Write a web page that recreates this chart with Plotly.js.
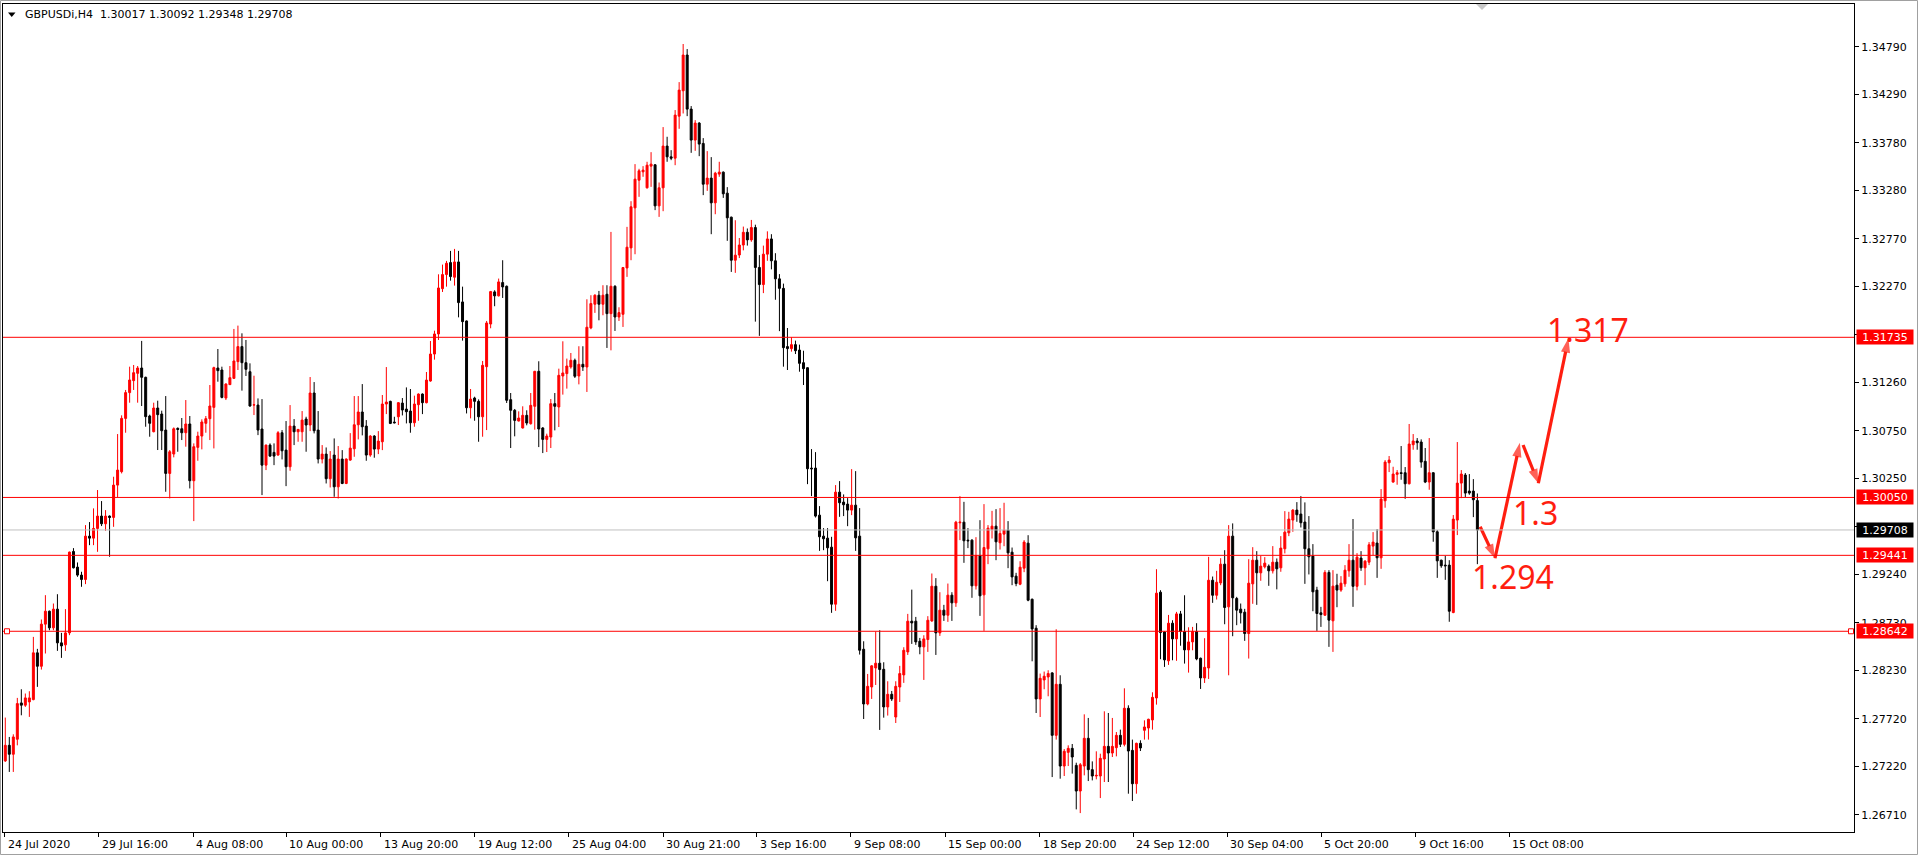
<!DOCTYPE html>
<html><head><meta charset="utf-8">
<script src="https://cdn.plot.ly/plotly-3.0.1.min.js"></script>
<style>html,body{margin:0;padding:0;background:#fff;overflow:hidden}#chart{width:1920px;height:858px}</style>
</head><body><div id="chart"></div>
<script>
// ---- data (GBPUSDi H4 candles, bar index 0..367) ----
const openP = [
1.27278,1.27442,1.27348,1.27506,1.27888,1.27864,1.27899,1.27923,1.28415,1.28274,
1.28717,1.28853,1.28678,1.28875,1.28520,1.28499,1.28625,1.29482,1.29317,1.29233,
1.29187,1.29643,1.29622,1.29724,1.29854,1.29773,1.29854,1.29840,1.30180,1.30321,
1.30882,1.31153,1.31279,1.31356,1.31412,1.31314,1.30907,1.30742,1.30991,1.30928,
1.30759,1.30303,1.30507,1.30777,1.30773,1.30731,1.30823,1.30226,1.30577,1.30696,
1.30830,1.30879,1.30998,1.31412,1.31391,1.31096,1.31237,1.31303,1.31479,1.31637,
1.31468,1.31373,1.31022,1.31022,1.30770,1.30390,1.30601,1.30524,1.30496,1.30731,
1.30548,1.30373,1.30801,1.30741,1.30741,1.30875,1.30812,1.31149,1.30759,1.30454,
1.30506,1.30247,1.30496,1.30162,1.30454,1.30197,1.30443,1.30562,1.30815,1.30949,
1.30801,1.30496,1.30696,1.30559,1.30636,1.31033,1.31061,1.30843,1.30899,1.31043,
1.30980,1.30959,1.30836,1.31026,1.31138,1.31047,1.31275,1.31559,1.31770,1.32247,
1.32395,1.32521,1.32367,1.32528,1.32107,1.31907,1.30994,1.31096,1.31061,1.30899,
1.31426,1.31875,1.32213,1.32171,1.32311,1.32272,1.31079,1.30967,1.30854,1.30781,
1.30914,1.30826,1.31009,1.31377,1.30781,1.30661,1.30686,1.31037,1.31002,1.31328,
1.31353,1.31423,1.31493,1.31328,1.31451,1.31423,1.31834,1.32083,1.32178,1.32083,
1.32188,1.31984,1.32272,1.31949,1.31977,1.32465,1.32676,1.33097,1.33388,1.33476,
1.33308,1.33536,1.33550,1.33118,1.33308,1.33747,1.33634,1.33620,1.34062,1.34329,
1.34705,1.34136,1.33810,1.33989,1.33775,1.33346,1.33410,1.33150,1.33452,1.33473,
1.33252,1.32999,1.32546,1.32601,1.32706,1.32840,1.32760,1.32890,1.32470,1.32290,
1.32610,1.32770,1.32540,1.32350,1.32250,1.31637,1.31616,1.31658,1.31601,1.31468,
1.31415,1.30359,1.30359,1.29864,1.29643,1.29622,1.29527,1.28927,1.30106,1.30001,
1.29980,1.29917,1.29969,1.29643,1.28453,1.27877,1.28056,1.28256,1.28306,1.28242,
1.27846,1.27979,1.27740,1.28056,1.28183,1.28425,1.28748,1.28748,1.28537,1.28478,
1.28555,1.28751,1.29116,1.28625,1.28864,1.28811,1.29022,1.28941,1.29783,1.29790,
1.29601,1.29601,1.29120,1.29439,1.29025,1.29509,1.29713,1.29748,1.29573,1.29664,
1.29706,1.29474,1.29222,1.29137,1.29306,1.29569,1.28979,1.28674,1.27930,1.28130,
1.28161,1.28204,1.27547,1.28084,1.27224,1.27368,1.27410,1.27231,1.26961,1.27224,
1.27516,1.27186,1.27119,1.27119,1.27298,1.27431,1.27361,1.27417,1.27547,1.27452,
1.27832,1.27389,1.27038,1.27463,1.27600,1.27624,1.27709,1.27940,1.29053,1.28635,
1.28331,1.28727,1.28562,1.28825,1.28639,1.28446,1.28530,1.28639,1.28358,1.28151,
1.28256,1.29179,1.29021,1.29151,1.29348,1.28899,1.29643,1.28987,1.28875,1.28843,
1.28618,1.29141,1.29390,1.29257,1.29320,1.29327,1.29278,1.29369,1.29310,1.29510,
1.29678,1.29812,1.29917,1.29875,1.29791,1.29510,1.29433,1.29075,1.28836,1.28811,
1.29261,1.28752,1.29127,1.29075,1.29141,1.29278,1.29390,1.29115,1.29412,1.29310,
1.29369,1.29538,1.29570,1.29415,1.30015,1.30415,1.30212,1.30293,1.30310,1.30310,
1.30194,1.30605,1.30644,1.30633,1.30430,1.30212,1.30310,1.29689,1.29390,1.29338,
1.29338,1.28839,1.29812,1.30201,1.30286,1.30117,1.30117,1.30017];
const highP = [
1.27734,1.27530,1.27558,1.27941,1.28032,1.27987,1.28011,1.28583,1.28457,1.28766,
1.29022,1.28860,1.28934,1.29032,1.28625,1.28875,1.29480,1.29517,1.29366,1.29268,
1.29759,1.29791,1.29935,1.30128,1.30012,1.29917,1.29861,1.30268,1.30717,1.30914,
1.31181,1.31426,1.31444,1.31433,1.31697,1.31321,1.30921,1.31047,1.31068,1.30963,
1.31117,1.30549,1.30787,1.30787,1.30886,1.31075,1.30907,1.30619,1.30742,1.30872,
1.30907,1.31233,1.31426,1.31612,1.31426,1.31250,1.31433,1.31823,1.31858,1.31777,
1.31707,1.31461,1.31331,1.31092,1.31085,1.30606,1.30619,1.30619,1.30748,1.30759,
1.30854,1.31022,1.30875,1.30770,1.30959,1.30899,1.31317,1.31264,1.30959,1.30601,
1.30576,1.30538,1.30671,1.30591,1.30548,1.30461,1.30727,1.31117,1.31117,1.31243,
1.30864,1.30706,1.30706,1.30748,1.31128,1.31422,1.31068,1.30899,1.31054,1.31096,
1.31208,1.31191,1.31121,1.31145,1.31145,1.31370,1.31696,1.31805,1.32398,1.32500,
1.32539,1.32644,1.32665,1.32644,1.32268,1.31912,1.31191,1.31110,1.31082,1.31486,
1.31907,1.32223,1.32230,1.32353,1.32546,1.32280,1.31149,1.30981,1.30956,1.31009,
1.30967,1.31149,1.31382,1.31483,1.30790,1.30721,1.31086,1.31149,1.31405,1.31693,
1.31511,1.31570,1.31511,1.31641,1.31641,1.32135,1.32178,1.32188,1.32223,1.32283,
1.32283,1.32844,1.32283,1.32051,1.32475,1.32897,1.33167,1.33557,1.33508,1.33536,
1.33582,1.33683,1.33557,1.33364,1.33947,1.33845,1.33704,1.34126,1.34420,1.34821,
1.34768,1.34168,1.34020,1.33999,1.33831,1.33694,1.33631,1.33476,1.33582,1.33480,
1.33315,1.33005,1.32967,1.32780,1.32900,1.32880,1.32970,1.32920,1.32600,1.32700,
1.32850,1.32820,1.32620,1.32400,1.32300,1.31833,1.31735,1.31700,1.31658,1.31594,
1.31420,1.30559,1.30527,1.29959,1.29727,1.29727,1.29636,1.30180,1.30222,1.30082,
1.30043,1.30348,1.30327,1.29938,1.28537,1.28193,1.28285,1.28639,1.28653,1.28316,
1.28116,1.28014,1.28116,1.28278,1.28474,1.28825,1.29080,1.28793,1.28572,1.28600,
1.28801,1.29250,1.29201,1.29053,1.28920,1.29144,1.29053,1.29804,1.30064,1.30004,
1.29727,1.29610,1.29632,1.29811,1.29980,1.29759,1.29909,1.29927,1.29938,1.29994,
1.29801,1.29523,1.29257,1.29379,1.29601,1.29653,1.28986,1.28706,1.28197,1.28218,
1.28232,1.28211,1.28663,1.28179,1.27403,1.27442,1.27456,1.27259,1.27256,1.27768,
1.27730,1.27273,1.27379,1.27354,1.27800,1.27782,1.27730,1.27582,1.27607,1.28042,
1.27863,1.27502,1.27470,1.27495,1.27705,1.27722,1.28000,1.29295,1.29074,1.28642,
1.28814,1.28758,1.28846,1.28856,1.29021,1.28684,1.28688,1.28727,1.28365,1.28569,
1.29425,1.29218,1.29278,1.29411,1.29495,1.29759,1.29777,1.29004,1.28934,1.28878,
1.29401,1.29527,1.29485,1.29436,1.29422,1.29345,1.29538,1.29408,1.29643,1.29906,
1.29899,1.29928,1.30001,1.30064,1.29998,1.29854,1.29559,1.29110,1.28899,1.29285,
1.29285,1.29285,1.29247,1.29222,1.29338,1.29559,1.29823,1.29464,1.29485,1.29390,
1.29580,1.29685,1.29717,1.30138,1.30443,1.30486,1.30373,1.30338,1.30591,1.30370,
1.30823,1.30717,1.30675,1.30661,1.30570,1.30675,1.30315,1.29707,1.29395,1.29436,
1.29390,1.29865,1.30633,1.30338,1.30307,1.30296,1.30243,1.30092];
const lowP = [
1.27267,1.27162,1.27162,1.27442,1.27758,1.27846,1.27741,1.27916,1.28057,1.28239,
1.28408,1.28653,1.28653,1.28436,1.28362,1.28436,1.28601,1.29303,1.29215,1.29110,
1.29138,1.29548,1.29548,1.29478,1.29749,1.29699,1.29426,1.29741,1.30050,1.30303,
1.30731,1.31047,1.31181,1.31047,1.31012,1.30794,1.30689,1.30735,1.30549,1.30549,
1.30110,1.30040,1.30472,1.30531,1.30654,1.30584,1.30145,1.29801,1.30436,1.30556,
1.30731,1.30654,1.30566,1.31268,1.31093,1.31075,1.31233,1.31296,1.31391,1.31174,
1.31328,1.31005,1.30917,1.30706,1.30075,1.30338,1.30478,1.30390,1.30490,1.30450,
1.30169,1.30331,1.30601,1.30636,1.30636,1.30531,1.30748,1.30724,1.30408,1.30408,
1.30197,1.30155,1.30057,1.30039,1.30190,1.30190,1.30436,1.30478,1.30661,1.30703,
1.30436,1.30478,1.30468,1.30506,1.30548,1.30927,1.30822,1.30829,1.30812,1.30913,
1.30829,1.30731,1.30794,1.30857,1.30927,1.31040,1.31268,1.31500,1.31707,1.32212,
1.32268,1.32331,1.32279,1.31945,1.31700,1.30934,1.30882,1.30857,1.30636,1.30689,
1.30759,1.31830,1.32062,1.32165,1.32149,1.31044,1.30570,1.30693,1.30850,1.30775,
1.30809,1.30816,1.30763,1.30580,1.30517,1.30528,1.30570,1.30756,1.30791,1.31132,
1.31195,1.31405,1.31307,1.31240,1.31381,1.31160,1.31820,1.31992,1.31914,1.31967,
1.31623,1.31598,1.31802,1.31907,1.31844,1.32371,1.32546,1.32609,1.33213,1.33424,
1.33300,1.33318,1.33073,1.33002,1.33062,1.33582,1.33599,1.33546,1.33929,1.34090,
1.34062,1.33676,1.33697,1.33641,1.33231,1.33276,1.32820,1.33030,1.33424,1.33202,
1.32750,1.32423,1.32413,1.32569,1.32650,1.32700,1.32740,1.31900,1.31750,1.32200,
1.32540,1.32450,1.32130,1.31800,1.31426,1.31391,1.31584,1.31559,1.31373,1.31233,
1.30190,1.30064,1.29839,1.29488,1.29495,1.29169,1.28836,1.28857,1.29846,1.29854,
1.29748,1.29864,1.29488,1.28397,1.27719,1.27863,1.27930,1.28077,1.27604,1.27733,
1.27755,1.27909,1.27677,1.27898,1.28099,1.28393,1.28509,1.28499,1.28400,1.28130,
1.28425,1.28741,1.28393,1.28593,1.28751,1.28741,1.28751,1.28899,1.29601,1.29362,
1.29517,1.28994,1.29081,1.28804,1.28646,1.29348,1.29618,1.29390,1.29502,1.29537,
1.29306,1.29127,1.29116,1.29127,1.29264,1.28958,1.28326,1.27782,1.27740,1.28032,
1.27958,1.27108,1.27502,1.27091,1.27119,1.27224,1.27144,1.26768,1.26729,1.27126,
1.27066,1.27073,1.27084,1.26887,1.27056,1.27056,1.27319,1.27326,1.27424,1.27431,
1.26933,1.26856,1.26933,1.27382,1.27502,1.27502,1.27607,1.27870,1.28348,1.28267,
1.28288,1.28337,1.28331,1.28490,1.28302,1.28207,1.28442,1.28337,1.28035,1.28098,
1.28140,1.28941,1.28976,1.29127,1.28716,1.28179,1.28590,1.28706,1.28724,1.28541,
1.28355,1.28931,1.28920,1.29173,1.29303,1.29120,1.29250,1.29083,1.29268,1.29461,
1.29643,1.29689,1.29794,1.29734,1.29141,1.29240,1.28853,1.28646,1.28688,1.28805,
1.28478,1.28425,1.28895,1.29057,1.29110,1.29215,1.28899,1.29072,1.29278,1.29127,
1.29338,1.29443,1.29204,1.29299,1.29942,1.30317,1.30205,1.30184,1.30236,1.30036,
1.30187,1.30552,1.30552,1.30363,1.30201,1.30131,1.29584,1.29204,1.29310,1.29183,
1.28742,1.28832,1.29654,1.30043,1.30050,1.30078,1.29843,1.29348];
const closeP = [
1.27442,1.27348,1.27530,1.27881,1.27864,1.27941,1.27941,1.28415,1.28274,1.28717,
1.28853,1.28678,1.28875,1.28520,1.28488,1.28625,1.29475,1.29310,1.29233,1.29187,
1.29643,1.29622,1.29724,1.29854,1.29773,1.29854,1.29840,1.30180,1.30338,1.30882,
1.31153,1.31286,1.31363,1.31412,1.31314,1.30900,1.30830,1.30991,1.30921,1.30752,
1.30303,1.30531,1.30773,1.30766,1.30731,1.30823,1.30226,1.30584,1.30696,1.30844,
1.30879,1.31012,1.31416,1.31384,1.31103,1.31244,1.31310,1.31486,1.31637,1.31468,
1.31398,1.31012,1.31025,1.30759,1.30390,1.30601,1.30485,1.30485,1.30731,1.30541,
1.30373,1.30801,1.30741,1.30766,1.30864,1.30812,1.31149,1.30752,1.30454,1.30506,
1.30247,1.30454,1.30162,1.30454,1.30197,1.30454,1.30569,1.30815,1.30949,1.30794,
1.30496,1.30696,1.30559,1.30643,1.31033,1.31054,1.30829,1.30836,1.31047,1.30970,
1.30952,1.30836,1.31033,1.31138,1.31047,1.31285,1.31559,1.31770,1.32254,1.32395,
1.32514,1.32374,1.32528,1.32100,1.31900,1.30994,1.31085,1.31061,1.30899,1.31440,
1.31886,1.32216,1.32171,1.32318,1.32265,1.31072,1.30967,1.30861,1.30886,1.30914,
1.30833,1.31019,1.31377,1.30770,1.30661,1.30696,1.31037,1.31009,1.31335,1.31360,
1.31433,1.31493,1.31325,1.31451,1.31423,1.31841,1.32090,1.32178,1.32083,1.32178,
1.31984,1.32272,1.31949,1.31995,1.32469,1.32683,1.33108,1.33399,1.33487,1.33494,
1.33546,1.33557,1.33118,1.33308,1.33747,1.33634,1.33620,1.34073,1.34336,1.34705,
1.34136,1.33810,1.33989,1.33768,1.33346,1.33410,1.33150,1.33462,1.33473,1.33245,
1.32992,1.32546,1.32599,1.32706,1.32840,1.32760,1.32890,1.32470,1.32290,1.32610,
1.32770,1.32540,1.32350,1.32250,1.31626,1.31616,1.31658,1.31594,1.31461,1.31405,
1.30352,1.30352,1.29854,1.29636,1.29615,1.29520,1.28927,1.30106,1.29994,1.29973,
1.29917,1.29969,1.29625,1.28442,1.27877,1.28063,1.28278,1.28306,1.28239,1.27846,
1.27979,1.27930,1.28063,1.28197,1.28442,1.28748,1.28730,1.28530,1.28478,1.28562,
1.28758,1.29116,1.28625,1.28864,1.28811,1.29022,1.28941,1.29790,1.29790,1.29594,
1.29594,1.29120,1.29439,1.29015,1.29523,1.29727,1.29748,1.29583,1.29671,1.29706,
1.29467,1.29214,1.29144,1.29316,1.29580,1.28969,1.28667,1.27930,1.28147,1.28169,
1.28197,1.27547,1.28084,1.27224,1.27379,1.27410,1.27319,1.26961,1.27238,1.27516,
1.27186,1.27119,1.27126,1.27305,1.27431,1.27361,1.27431,1.27547,1.27452,1.27832,
1.27382,1.27038,1.27463,1.27414,1.27635,1.27716,1.27947,1.29043,1.28628,1.28341,
1.28727,1.28562,1.28825,1.28639,1.28446,1.28530,1.28639,1.28351,1.28151,1.28263,
1.29179,1.29021,1.29158,1.29348,1.28892,1.29643,1.28994,1.28864,1.28836,1.28618,
1.29148,1.29390,1.29257,1.29327,1.29359,1.29278,1.29369,1.29299,1.29517,1.29685,
1.29822,1.29917,1.29868,1.29784,1.29510,1.29426,1.29057,1.28829,1.28818,1.29261,
1.28759,1.29117,1.29075,1.29148,1.29285,1.29390,1.29115,1.29422,1.29310,1.29380,
1.29552,1.29580,1.29415,1.30033,1.30422,1.30443,1.30296,1.30310,1.30303,1.30194,
1.30612,1.30644,1.30626,1.30422,1.30212,1.30310,1.29689,1.29383,1.29331,1.29331,
1.28853,1.29822,1.30201,1.30296,1.30096,1.30096,1.30026,1.29708];

const symbolHeader = "GBPUSDi,H4  1.30017 1.30092 1.29348 1.29708";
const xTickLabels = ["24 Jul 2020","29 Jul 16:00","4 Aug 08:00","10 Aug 00:00","13 Aug 20:00","19 Aug 12:00",
  "25 Aug 04:00","30 Aug 21:00","3 Sep 16:00","9 Sep 08:00","15 Sep 00:00","18 Sep 20:00","24 Sep 12:00",
  "30 Sep 04:00","5 Oct 20:00","9 Oct 16:00","15 Oct 08:00"];
const xTickBars = [-0.1,23.3,46.8,70.1,93.6,117.1,140.5,164.0,187.3,210.8,234.4,257.9,281.2,304.7,328.1,351.6,374.9];
const yTickValues = [1.34790,1.34290,1.33780,1.33280,1.32770,1.32270,1.31760,1.31260,1.30750,1.30250,
  1.29740,1.29240,1.28730,1.28230,1.27720,1.27220,1.26710];
const levelLines = [1.31735,1.30050,1.29441,1.28642];
const bidPrice = 1.29708;
// forecast zig-zag arrows
const arrowFromBar = [367.7,371.4,378.4,382.2];
const arrowFromPrice = [1.29742,1.29410,1.30602,1.30199];
const arrowToBar = [371.4,377.6,382.2,389.7];
const arrowToPrice = [1.29410,1.30626,1.30199,1.31724];
const noteText = ["1.317","1.3","1.294"];
const noteBar = [394.5,381.6,376.0];
const notePrice = [1.31817,1.29895,1.29218];

// ---- layout geometry (pixels) ----
const W=1920,H=858,PL=3,PR=1854,PT=4,PB=832;
const px = p => (p-PL)/(PR-PL);
const py = p => (PB-p)/(PB-PT);
const idx = openP.map((_,i)=>i);

const RED='#ff0000', ARROW='#ff1e10';
const traces = [{
  type:'candlestick', x:idx, open:openP, high:highP, low:lowP, close:closeP,
  increasing:{line:{color:RED,width:1},fillcolor:RED},
  decreasing:{line:{color:'#000000',width:1},fillcolor:'#000000'},
  whiskerwidth:0, hoverinfo:'skip', showlegend:false
}];
arrowFromBar.forEach((b,i)=>traces.push({type:'scatter',mode:'lines+markers',x:[b,arrowToBar[i]],
  y:[arrowFromPrice[i],arrowToPrice[i]],line:{color:ARROW,width:3.2},
  marker:{symbol:'arrow',size:[0,15],angleref:'previous',color:ARROW,line:{width:0}},
  hoverinfo:'skip',showlegend:false,cliponaxis:false}));

const shapes = [];
levelLines.forEach(v=>shapes.push({type:'line',xref:'paper',yref:'y',x0:0,x1:1,y0:v,y1:v,line:{color:RED,width:1}}));
shapes.push({type:'line',xref:'paper',yref:'y',x0:0,x1:1,y0:bidPrice,y1:bidPrice,line:{color:'#c0c0c0',width:1}});
[px(7),px(1851)].forEach(xx=>shapes.push({type:'rect',xref:'paper',yref:'y',xsizemode:'pixel',ysizemode:'pixel',
  xanchor:xx,yanchor:levelLines[3],x0:-2.5,x1:2.5,y0:-2.5,y1:2.5,line:{color:RED,width:1},fillcolor:'#ffffff'}));
shapes.push({type:'path',xref:'paper',yref:'paper',
  path:`M ${px(8)},${py(12.5)} L ${px(15.5)},${py(12.5)} L ${px(11.75)},${py(17)} Z`,fillcolor:'#000',line:{width:0}});
shapes.push({type:'path',xref:'paper',yref:'paper',
  path:`M ${px(1476)},${py(4)} L ${px(1488)},${py(4)} L ${px(1482)},${py(10)} Z`,fillcolor:'#c8c8c8',line:{width:0}});
shapes.push({type:'rect',xref:'paper',yref:'paper',x0:px(0.5),x1:px(1917.5),y0:py(854.5),y1:py(0.5),line:{color:'#a0a0a0',width:1}});

const annotations = [];
annotations.push({xref:'paper',yref:'paper',x:px(23),y:py(15),xanchor:'left',yanchor:'middle',showarrow:false,
  text:symbolHeader.replace(/ /g,'&nbsp;'),font:{family:'DejaVu Sans',size:11,color:'#000'}});
xTickLabels.forEach((t,i)=>annotations.push({xref:'x',yref:'paper',x:xTickBars[i],y:py(844),xanchor:'left',yanchor:'middle',
  xshift:1,showarrow:false,text:t,font:{family:'DejaVu Sans',size:11,color:'#000'}}));
levelLines.forEach(v=>annotations.push({xref:'paper',yref:'y',x:1,y:v,xanchor:'left',yanchor:'middle',xshift:2,showarrow:false,
  text:v.toFixed(5),bgcolor:RED,width:54,height:12,borderpad:1,font:{family:'DejaVu Sans',size:11,color:'#fff'}}));
annotations.push({xref:'paper',yref:'y',x:1,y:bidPrice,xanchor:'left',yanchor:'middle',xshift:2,showarrow:false,
  text:bidPrice.toFixed(5),bgcolor:'#000',width:54,height:12,borderpad:1,font:{family:'DejaVu Sans',size:11,color:'#fff'}});
noteText.forEach((t,i)=>annotations.push({xref:'x',yref:'y',x:noteBar[i],y:notePrice[i],xanchor:'center',yanchor:'middle',
  showarrow:false,text:t,font:{family:'Noto Sans',size:32,color:ARROW}}));

const layout = {
  width:W,height:H,margin:{l:PL,r:W-PR,t:PT,b:H-PB,autoexpand:false},
  paper_bgcolor:'#fff',plot_bgcolor:'#fff',showlegend:false,hovermode:false,boxgap:0.3,
  xaxis:{type:'linear',range:[-0.57,460.9],tickvals:xTickBars,showticklabels:false,ticks:'outside',ticklen:4,
    tickcolor:'#000',showgrid:false,zeroline:false,showline:true,mirror:true,linecolor:'#000',linewidth:1,
    rangeslider:{visible:false},fixedrange:true},
  yaxis:{side:'right',range:[1.26530,1.35242],tickvals:yTickValues,ticktext:yTickValues.map(v=>v.toFixed(5)),
    ticks:'outside',ticklen:4,tickcolor:'#000',showgrid:false,zeroline:false,showline:true,mirror:true,
    linecolor:'#000',linewidth:1,tickfont:{family:'DejaVu Sans',size:11,color:'#000'},fixedrange:true},
  shapes:shapes,annotations:annotations
};
Plotly.newPlot('chart',traces,layout,{displayModeBar:false,staticPlot:true});
</script></body></html>
